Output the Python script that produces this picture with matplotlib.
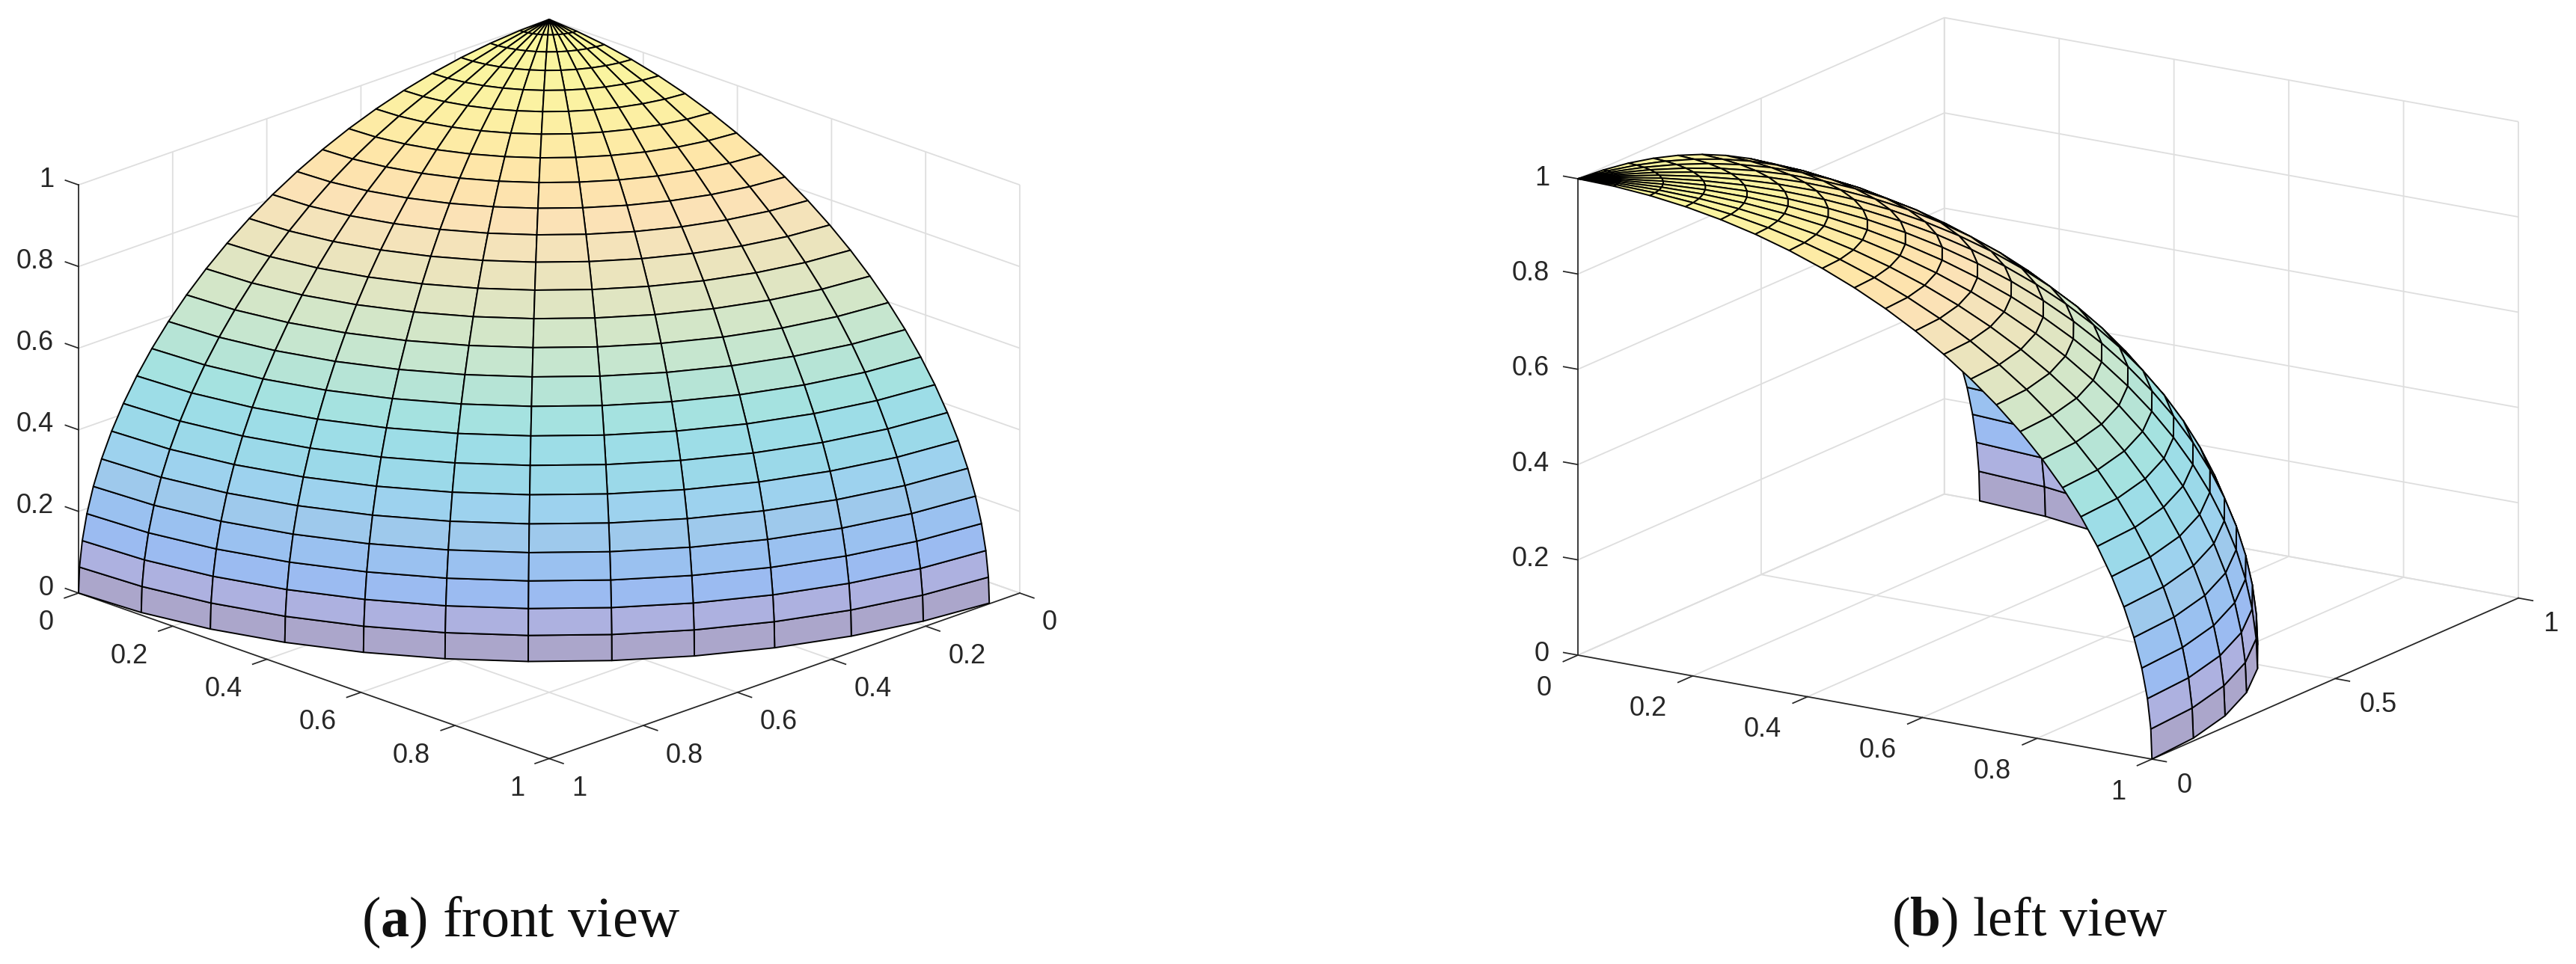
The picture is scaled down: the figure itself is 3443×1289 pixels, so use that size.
import matplotlib
matplotlib.use("Agg")
import matplotlib.pyplot as plt
import matplotlib.transforms as mtransforms
from matplotlib.colors import to_rgba
from mpl_toolkits.mplot3d import proj3d
import numpy as np

plt.rcParams.update({
    'font.family': 'Liberation Sans',
    'grid.color': '#dedede',
    'grid.linewidth': 1.3,
    'mathtext.fontset': 'custom',
    'mathtext.rm': 'Liberation Serif',
    'mathtext.bf': 'Liberation Serif:bold',
})

# shell angles in degrees
azimuth_deg = [0, 7.2, 14.4, 21.6, 28.8, 36, 43.2, 50.4, 57.6, 64.8, 72, 79.2, 86.4]
elevation_deg = [0, 3.6, 7.2, 10.8, 14.4, 18, 21.6, 25.2, 28.8, 32.4, 36, 39.6, 43.2,
                 46.8, 50.4, 54, 57.6, 61.2, 64.8, 68.4, 72, 75.6, 79.2, 82.8, 86.4, 90]

# one colour per band, bottom to top
band_colors = ['#aba6cb', '#adb1e0', '#9bbbf1', '#9ac1f0', '#9ec9ec', '#9dd2ee', '#9bd9e9',
               '#9ddde7', '#a5e2e0', '#b6e4d6', '#c6e6cf', '#d3e6c8', '#e0e5c2', '#ebe4bd',
               '#f4e3ba', '#fbe2b6', '#fde3ae', '#fee6a8', '#fdeba5', '#fcefa3', '#fbf2a2',
               '#faf4a0', '#faf59f', '#fbf79e', '#fcf89c']

z_ticks = [0, 0.2, 0.4, 0.6, 0.8, 1]
z_labels = ['0', '0.2', '0.4', '0.6', '0.8', '1']
front_xy_ticks = [0, 0.2, 0.4, 0.6, 0.8, 1]
front_xy_labels = ['0', '0.2', '0.4', '0.6', '0.8', '1']
left_x_ticks = [0, 0.2, 0.4, 0.6, 0.8, 1]
left_x_labels = ['0', '0.2', '0.4', '0.6', '0.8', '1']
left_y_ticks = [0, 0.5, 1]
left_y_labels = ['0', '0.5', '1']

W, H = 3443, 1289
AXIS_COLOR = '#262626'
TICK_SIZE = 26

fig = plt.figure(figsize=(W / 100, H / 100), dpi=100)


def place_axes(ax, p0, px0, p1, px1):
    # size the square axes so that two box corners land on the given pixels
    M = ax.get_proj()
    x0, y0, _ = proj3d.proj_transform(*p0, M)
    x1, y1, _ = proj3d.proj_transform(*p1, M)
    vx0, vx1 = ax.viewLim.intervalx
    vy0, vy1 = ax.viewLim.intervaly
    side = (px1[0] - px0[0]) / ((x1 - x0) / (vx1 - vx0))
    left = px0[0] - side * (x0 - vx0) / (vx1 - vx0)
    bottom = (H - px0[1]) - side * (y0 - vy0) / (vy1 - vy0)
    ax.set_position([left / W, bottom / H, side / W, side / H])


def make_axes(elev, azim, aspect, xt, yt):
    ax = fig.add_subplot(projection='3d', proj_type='ortho', computed_zorder=False)
    ax.view_init(elev=elev, azim=azim)
    ax.set_box_aspect(aspect, zoom=1)
    ax.set_xlim(0, 1)
    ax.set_ylim(0, 1)
    ax.set_zlim(0, 1)
    ax.set_xticks(xt)
    ax.set_yticks(yt)
    ax.set_zticks(z_ticks)
    ax.patch.set_visible(False)
    for axis in [ax.xaxis, ax.yaxis, ax.zaxis]:
        axis.set_pane_color((1, 1, 1, 0))
        axis.pane.set_edgecolor('#dedede')
        axis.pane.set_linewidth(1.3)
        axis.line.set_color((0, 0, 0, 0))
        axis.set_ticklabels([])
    ax.tick_params(color=(0, 0, 0, 0))
    return ax


def draw_shell(ax):
    az = np.deg2rad(azimuth_deg)
    el = np.deg2rad(elevation_deg)
    x = np.outer(np.cos(el), np.cos(az))
    y = np.outer(np.cos(el), np.sin(az))
    z = np.outer(np.sin(el), np.ones(len(az)))
    colors = np.array([[to_rgba(c)] * (len(az) - 1) for c in band_colors])
    ax.plot_surface(x, y, z, facecolors=colors, shade=False, edgecolor='k', linewidth=1.4,
                    rstride=1, cstride=1, antialiased=True, zorder=5)


def axis_with_ticks(ax, start, end, ticks, labels, tick_dir, offset, ha):
    # dark axis line, tick marks and labels, offset in pixels from the tick
    start = np.array(start, float)
    end = np.array(end, float)
    ax.plot(*zip(start, end), color=AXIS_COLOR, lw=1.25, zorder=3)
    trans = mtransforms.offset_copy(ax.transData, fig=fig, x=offset[0], y=-offset[1], units='dots')
    M = ax.get_proj()
    for t, s in zip(ticks, labels):
        p = start + (end - start) * t
        q = p + np.array(tick_dir)
        ax.plot(*zip(p, q), color=AXIS_COLOR, lw=1.25, zorder=3)
        px, py, _ = proj3d.proj_transform(p[0], p[1], p[2], M)
        ax.text2D(px, py, s, transform=trans, ha=ha, va='center',
                  fontsize=TICK_SIZE, color=AXIS_COLOR, zorder=6)


# (a) front view
ax_a = make_axes(20.6, 45, (891, 891, 584), front_xy_ticks, front_xy_ticks)
draw_shell(ax_a)
axis_with_ticks(ax_a, (1, 0, 0), (1, 1, 0), front_xy_ticks, front_xy_labels, (0.03, 0, 0), (-33, 40), 'right')
axis_with_ticks(ax_a, (0, 1, 0), (1, 1, 0), front_xy_ticks, front_xy_labels, (0, 0.03, 0), (30, 40), 'left')
axis_with_ticks(ax_a, (1, 0, 0), (1, 0, 1), z_ticks, z_labels, (0, -0.028, 0), (-33, -7), 'right')
place_axes(ax_a, (1, 0, 0), (105, 793), (0, 1, 0), (1363, 793))

# (b) left view
ax_b = make_axes(16.4, -57.3, (911.7, 906.6, 664), left_x_ticks, left_y_ticks)
draw_shell(ax_b)
axis_with_ticks(ax_b, (0, 0, 0), (1, 0, 0), left_x_ticks, left_x_labels, (0, -0.04, 0), (-35, 44), 'right')
axis_with_ticks(ax_b, (1, 0, 0), (1, 1, 0), left_y_ticks, left_y_labels, (0.025, 0, 0), (33, 35), 'left')
axis_with_ticks(ax_b, (0, 0, 0), (0, 0, 1), z_ticks, z_labels, (-0.025, 0, 0), (-38, -1), 'right')
place_axes(ax_b, (0, 0, 0), (2109, 876), (1, 1, 0), (3366, 799))

fig.text(483 / W, 1 - 1233 / H, r'($\mathbf{a}$) front view', family='Liberation Serif',
         fontsize=55, ha='left', va='center', color='#111111')
fig.text(2528 / W, 1 - 1233 / H, r'($\mathbf{b}$) left view', family='Liberation Serif',
         fontsize=53, ha='left', va='center', color='#111111')

fig.savefig('out.png', dpi=100, facecolor='white')
